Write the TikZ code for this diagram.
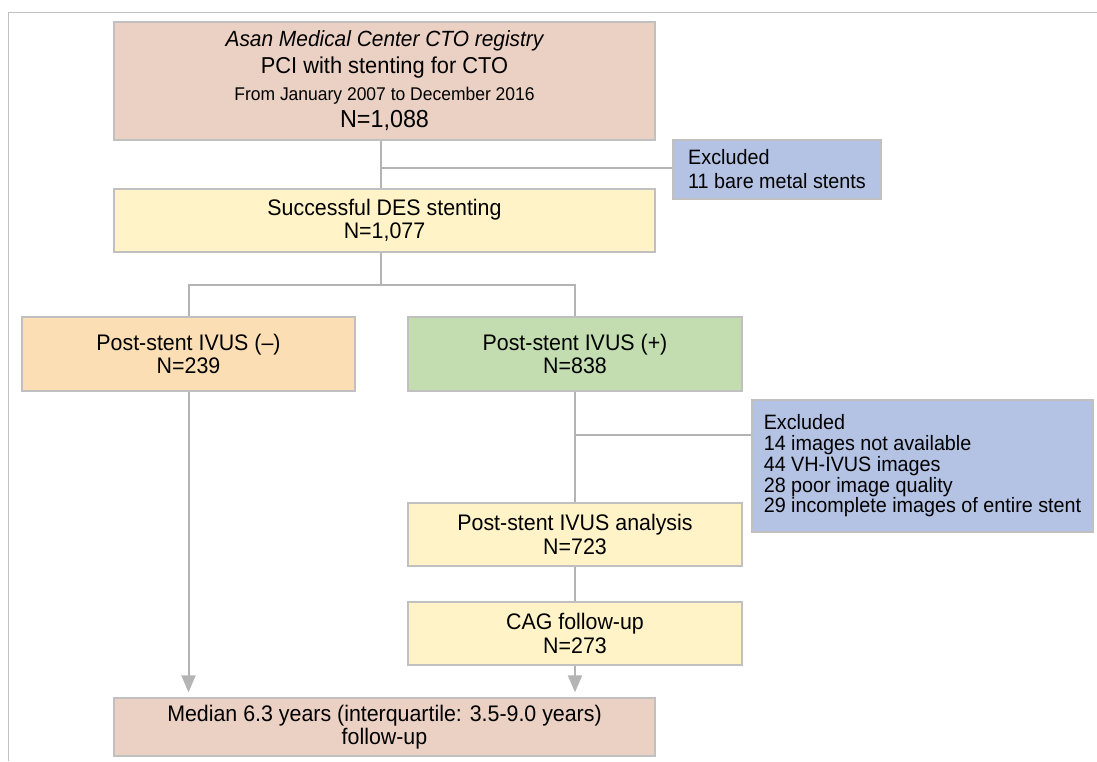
\documentclass[tikz,border=0pt]{standalone}
\usepackage{fontspec}
\setmainfont[FakeStretch=0.95]{Liberation Sans}
\usetikzlibrary{arrows.meta,calc}
\definecolor{pinkbox}{RGB}{234,209,196}
\definecolor{yellowbox}{RGB}{255,243,199}
\definecolor{orangebox}{RGB}{252,222,180}
\definecolor{greenbox}{RGB}{195,221,177}
\definecolor{bluebox}{RGB}{180,194,228}
\definecolor{bordergray}{RGB}{192,192,192}
\definecolor{conngray}{RGB}{180,180,180}
\newcommand\mainsz{\fontsize{22.5}{23.5}\selectfont}
\begin{document}
\begin{tikzpicture}[x=1pt,y=-1pt,
  box/.style={draw=bordergray, line width=1.3pt, inner sep=0pt, align=center, font=\mainsz},
  exbox/.style={box, fill=bluebox, align=left},
  conn/.style={draw=conngray, line width=2pt},
  arr/.style={-{Triangle[width=14pt,length=17pt]}, shorten >=5pt},
  frameline/.style={draw=bordergray, line width=1.5pt}]
\useasboundingbox (0,0) rectangle (1097,761);
% frame
\coordinate (fa) at (1097,12.5);
\coordinate (fb) at (8.5,12.5);
\coordinate (fc) at (8.5,761);
\draw[frameline] (fa) -- (fb) -- (fc);
% boxes
\node[box, fill=pinkbox, minimum width=541pt, minimum height=118pt, font=\fontsize{22}{27}\selectfont] (top) at (384.5,81)
  {{\itshape Asan Medical Center CTO registry}\\
   {\fontsize{23}{27}\selectfont PCI with stenting for CTO}\\
   {\fontsize{18.4}{27}\selectfont From January 2007 to December 2016}\\
   {\fontsize{24.6}{27}\selectfont N=1,088}};
\node[exbox, minimum width=208pt, minimum height=59pt, font=\fontsize{20.8}{24}\selectfont] (exc1) at (777,169.5)
  {Excluded\\11 bare metal stents};
\node[box, fill=yellowbox, minimum width=541pt, minimum height=63pt] (succ) at (384.5,220.5)
  {Successful DES stenting\\N=1,077};
\node[box, fill=orangebox, minimum width=333pt, minimum height=74pt] (neg) at (188.5,354)
  {Post-stent IVUS (--)\\N=239};
\node[box, fill=greenbox, minimum width=334pt, minimum height=74pt] (pos) at (575,354)
  {Post-stent IVUS (+)\\N=838};
\node[exbox, minimum width=341pt, minimum height=132pt, font=\fontsize{20.8}{20.8}\selectfont] (exc2) at (922.5,466)
  {Excluded\\14 images not available\\44 VH-IVUS images\\28 poor image quality\\29 incomplete images of entire stent};
\node[box, fill=yellowbox, minimum width=334pt, minimum height=63pt] (ana) at (575,534.5)
  {Post-stent IVUS analysis\\N=723};
\node[box, fill=yellowbox, minimum width=334pt, minimum height=63pt] (cag) at (575,633.5)
  {CAG follow-up\\N=273};
\node[box, fill=pinkbox, minimum width=541pt, minimum height=58pt, font=\fontsize{22.5}{22.5}\selectfont] (med) at (384.5,727)
  {Median 6.3 years (interquartile: 3.5-9.0 years)\\follow-up};
% connectors
\coordinate (j1) at (381,168);
\draw[conn] (top.south -| j1) -- (succ.north -| j1);
\draw[conn] (j1) -- (j1 -| exc1.west);
\coordinate (j2) at (381,285);
\draw[conn] (succ.south -| j2) -- (j2);
\draw[conn] (neg.north) |- (j2) -| (pos.north);
\coordinate (j3) at (575,435);
\draw[conn] (pos.south) -- (ana.north);
\draw[conn] (j3) -- (j3 -| exc2.west);
\draw[conn] (ana.south) -- (cag.north);
\draw[conn, arr] (cag.south) -- (cag.south |- med.north);
\draw[conn, arr] (neg.south) -- (neg.south |- med.north);
\end{tikzpicture}
\end{document}
